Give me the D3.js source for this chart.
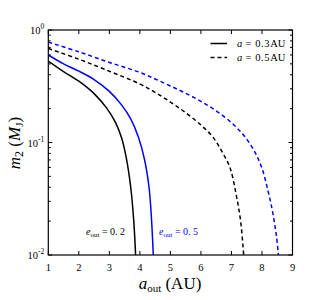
<!DOCTYPE html>
<html><head><meta charset="utf-8">
<script src="https://cdn.jsdelivr.net/npm/d3@7"></script>
<style>body{margin:0;background:#fff}svg{display:block}</style>
</head><body><svg id="c" width="325" height="300"></svg>
<script>
// ---- data ----
const xTicks = [1,2,3,4,5,6,7,8,9];
const yTicks = [1, 0.1, 0.01];
const yTickExp = ["0","-1","-2"];
// a = 0.3 AU, e_out = 0.2 (black solid)
const s1x = [1, 1.5, 2.0, 2.5, 2.9, 3.2, 3.4, 3.55, 3.7, 3.8, 3.86];
const s1y = [0.53, 0.427, 0.351, 0.272, 0.204, 0.151, 0.11, 0.074, 0.04, 0.02, 0.01];
// a = 0.3 AU, e_out = 0.5 (blue solid)
const s2x = [1, 1.5, 2.0, 2.5, 3.0, 3.4, 3.7, 3.95, 4.15, 4.3, 4.38, 4.44];
const s2y = [0.60, 0.50, 0.431, 0.363, 0.285, 0.216, 0.162, 0.112, 0.071, 0.04, 0.021, 0.01];
// a = 0.5 AU, e_out = 0.2 (black dashed)
const s3x = [1, 2, 3, 4, 4.5, 5, 5.5, 6, 6.4, 6.7, 6.95, 7.15, 7.3, 7.4];
const s3y = [0.685, 0.55, 0.43, 0.331, 0.279, 0.229, 0.184, 0.143, 0.111, 0.082, 0.06, 0.035, 0.02, 0.01];
// a = 0.5 AU, e_out = 0.5 (blue dashed)
const s4x = [1, 2, 3, 4, 4.5, 5, 5.5, 6, 6.5, 7, 7.4, 7.75, 8.0, 8.2, 8.35, 8.47, 8.54];
const s4y = [0.78, 0.64, 0.515, 0.42, 0.367, 0.318, 0.274, 0.232, 0.191, 0.15, 0.116, 0.084, 0.059, 0.037, 0.024, 0.015, 0.01];

const DASH = "4,3";
const series = [
  {x:s1x, y:s1y, color:"#000", dash:null},
  {x:s2x, y:s2y, color:"#0000ff", dash:null},
  {x:s3x, y:s3y, color:"#000", dash:DASH},
  {x:s4x, y:s4y, color:"#0000ff", dash:DASH}
];

const L=48.3, R=292.5, T=30, B=255;
const x = d3.scaleLinear().domain([1,9]).range([L,R]);
const y = d3.scaleLog().domain([0.01,1]).range([B,T]);
const svg = d3.select("#c");
const font = "'Liberation Serif', 'DejaVu Serif', serif";

// curves
svg.append("clipPath").attr("id","cp").append("rect").attr("x",L).attr("y",T).attr("width",R-L).attr("height",B-T);
const line = d3.line().x(d=>x(d[0])).y(d=>y(d[1])).curve(d3.curveCatmullRom.alpha(0.5));
series.forEach(s=>{
  svg.append("path").attr("clip-path","url(#cp)")
    .attr("d", line(s.x.map((v,i)=>[v,s.y[i]])))
    .attr("fill","none").attr("stroke",s.color).attr("stroke-width",1.5)
    .attr("stroke-dasharray", s.dash);
});

// axes (ticks inward)
const minor = [];
[0.01,0.1].forEach(d=>{for(let k=2;k<=9;k++) minor.push(d*k);});
const g = svg.append("g").attr("stroke","#000").attr("stroke-width",1);
xTicks.forEach(t=>{
  g.append("line").attr("x1",x(t)).attr("x2",x(t)).attr("y1",B).attr("y2",B-4);
  g.append("line").attr("x1",x(t)).attr("x2",x(t)).attr("y1",T).attr("y2",T+4);
});
yTicks.forEach(t=>{
  g.append("line").attr("x1",L).attr("x2",L+4).attr("y1",y(t)).attr("y2",y(t));
  g.append("line").attr("x1",R).attr("x2",R-4).attr("y1",y(t)).attr("y2",y(t));
});
minor.forEach(t=>{
  g.append("line").attr("x1",L).attr("x2",L+2.5).attr("y1",y(t)).attr("y2",y(t));
  g.append("line").attr("x1",R).attr("x2",R-2.5).attr("y1",y(t)).attr("y2",y(t));
});
svg.append("rect").attr("x",L).attr("y",T).attr("width",R-L).attr("height",B-T)
  .attr("fill","none").attr("stroke","#000").attr("stroke-width",1.2);

// tick labels
xTicks.forEach(t=>{
  svg.append("text").attr("x",x(t)).attr("y",B+16).attr("text-anchor","middle")
    .attr("font-family",font).attr("font-size",10.5).text(t);
});
yTicks.forEach((t,i)=>{
  const tx = svg.append("text").attr("x",L-4).attr("y",y(t)+4).attr("text-anchor","end")
    .attr("font-family",font).attr("font-size",10.5);
  tx.append("tspan").text("10");
  tx.append("tspan").attr("dy",-5).attr("font-size",7.5).text(yTickExp[i]);
});

// axis labels
const xl = svg.append("text").attr("x",170).attr("y",289).attr("text-anchor","middle")
  .attr("font-family",font).attr("font-size",17);
xl.append("tspan").attr("font-style","italic").text("a");
xl.append("tspan").attr("font-size",11).attr("dy",3).text("out");
xl.append("tspan").attr("dy",-3).text(" (AU)");

const yl = svg.append("text").attr("transform","translate(20,143) rotate(-90)").attr("text-anchor","middle")
  .attr("font-family",font).attr("font-size",17);
yl.append("tspan").attr("font-style","italic").text("m");
yl.append("tspan").attr("font-size",12).attr("dy",3).text("2");
yl.append("tspan").attr("dy",-3).text(" (");
yl.append("tspan").attr("font-style","italic").text("M");
yl.append("tspan").attr("font-size",11).attr("dy",3).text("J");
yl.append("tspan").attr("dy",-3).text(")");

// legend
const legend = [{label:"0.3", dash:null, y:43.5},{label:"0.5", dash:DASH, y:57.5}];
legend.forEach(l=>{
  svg.append("line").attr("x1",210.5).attr("x2",227).attr("y1",l.y).attr("y2",l.y)
    .attr("stroke","#000").attr("stroke-width",1.5).attr("stroke-dasharray",l.dash);
  const t = svg.append("text").attr("x",237).attr("y",l.y+3.5).attr("font-family",font).attr("font-size",10.5);
  t.append("tspan").attr("font-style","italic").text("a");
  t.append("tspan").text(" = " + l.label).attr("letter-spacing",0.6);
  t.append("tspan").text("AU");
});

// annotations
const notes = [{x:86, val:"0.2", color:"#000"},{x:159, val:"0.5", color:"#0000ff"}];
notes.forEach(n=>{
  const t = svg.append("text").attr("x",n.x).attr("y",235).attr("fill",n.color)
    .attr("font-family",font).attr("font-size",10);
  t.append("tspan").attr("font-style","italic").text("e");
  t.append("tspan").attr("font-size",7).attr("dy",2).text("out");
  t.append("tspan").attr("dy",-2).text(" = " + n.val.replace(".", ". "));
});
</script></body></html>
